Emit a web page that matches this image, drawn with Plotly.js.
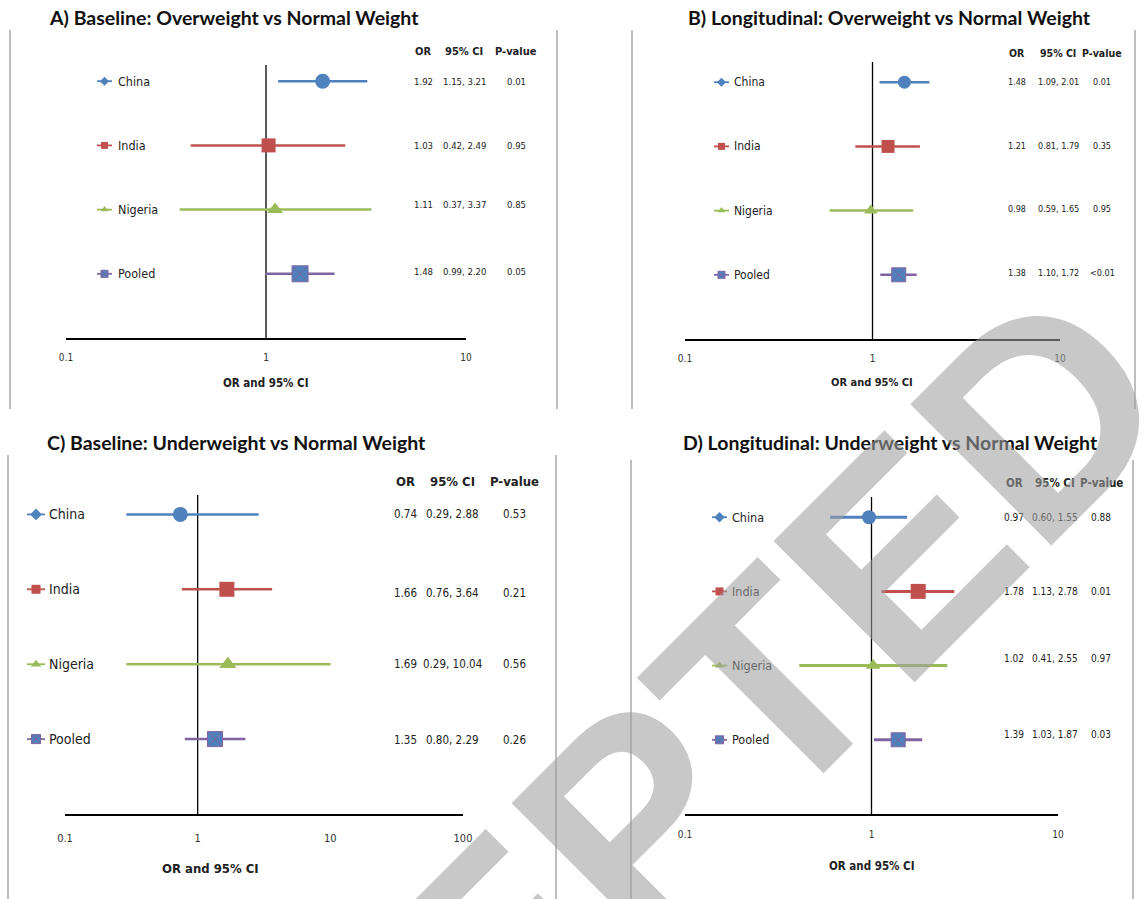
<!DOCTYPE html>
<html><head><meta charset="utf-8">
<script src="https://cdn.plot.ly/plotly-3.0.1.min.js"></script>
<style>html,body{margin:0;padding:0;background:#fff}</style>
</head><body><div id="chart" style="width:1144px;height:899px"></div>
<script>
// ---------- DATA ----------
const categories = ["China", "India", "Nigeria", "Pooled"];

const titles = [
  "A) Baseline: Overweight vs Normal Weight",
  "B) Longitudinal: Overweight vs Normal Weight",
  "C) Baseline: Underweight vs Normal Weight",
  "D) Longitudinal: Underweight vs Normal Weight"
];

const orA = [1.92, 1.03, 1.11, 1.48];
const loA = [1.15, 0.42, 0.37, 0.99];
const hiA = [3.21, 2.49, 3.37, 2.20];
const pA  = ["0.01", "0.95", "0.85", "0.05"];

const orB = [1.48, 1.21, 0.98, 1.38];
const loB = [1.09, 0.81, 0.59, 1.10];
const hiB = [2.01, 1.79, 1.65, 1.72];
const pB  = ["0.01", "0.35", "0.95", "<0.01"];

const orC = [0.74, 1.66, 1.69, 1.35];
const loC = [0.29, 0.76, 0.29, 0.80];
const hiC = [2.88, 3.64, 10.04, 2.29];
const pC  = ["0.53", "0.21", "0.56", "0.26"];

const orD = [0.97, 1.78, 1.02, 1.39];
const loD = [0.60, 1.13, 0.41, 1.03];
const hiD = [1.55, 2.78, 2.55, 1.87];
const pD  = ["0.88", "0.01", "0.97", "0.03"];

const tickValsAB = [0.1, 1, 10];
const tickValsC  = [0.1, 1, 10, 100];
const tickTextAB = ["0.1", "1", "10"];
const tickTextC  = ["0.1", "1", "10", "100"];

const headers = ["OR", "95% CI", "P-value"];
const axisTitle = "OR and 95% CI";
const watermark = "ACCEPTED";

// ---------- STYLE / LAYOUT ----------
const W = 1144, H = 899;
const px = x => x / W;
const py = y => 1 - y / H;
const NARROW = "'Liberation Sans Narrow','DejaVu Sans Condensed','Liberation Sans',sans-serif";
const TITLEF = "Lato, 'Open Sans', sans-serif";

const colors = { China: "#4F81BD", India: "#C0504D", Nigeria: "#9BBB59", Pooled: "#8064A2" };
const markerColors = { China: "#4F81BD", India: "#C0504D", Nigeria: "#9BBB59", Pooled: "#4F81BD" };
const symbols = { China: "circle", India: "square", Nigeria: "triangle-up", Pooled: "square-x" };
const legSymbols = { China: "diamond", India: "square", Nigeria: "triangle-up", Pooled: "square-x" };

const panels = [
  { or: orA, lo: loA, hi: hiA, p: pA, tv: tickValsAB, tt: tickTextAB, rng: [-1, 1],
    xl: 66, xr: 466, y0: 338, unit: 64.2, top: 65, legL: 97, legR: 112, labX: 116,
    cols: [423, 464, 516], headY: 52, valDy: [0, 0, -5, -2], tStand: 9,
    titleX: 47, titleY: 17, axT: [266, 383],
    fLab: 12.5, fVal: 9.5, fHead: 11, fTick: 10, fAx: 11.5, msize: [15, 14, 14, 16], lw: 2.5, legM: 7 },
  { or: orB, lo: loB, hi: hiB, p: pB, tv: tickValsAB, tt: tickTextAB, rng: [-1, 1],
    xl: 685, xr: 1060, y0: 339, unit: 64.2, top: 62, legL: 714, legR: 729, labX: 732,
    cols: [1017, 1058, 1102], headY: 53, valDy: [0, 0, -2, -2], tStand: 9,
    titleX: 686, titleY: 17, axT: [872, 382],
    fLab: 12, fVal: 9, fHead: 10.5, fTick: 10, fAx: 11, msize: [13, 13, 12, 14], lw: 2.5, legM: 7 },
  { or: orC, lo: loC, hi: hiC, p: pC, tv: tickValsC, tt: tickTextC, rng: [-1, 2],
    xl: 65, xr: 463, y0: 814, unit: 74.9, top: 495, legL: 27, legR: 45, labX: 47,
    cols: [405, 452, 514], headY: 481, valDy: [0, 4, 0, 1], tStand: 13,
    titleX: 45, titleY: 443, axT: [210, 868],
    fLab: 14, fVal: 11.5, fHead: 13, fTick: 11, fAx: 13, msize: [15, 15, 15, 15], lw: 2.5, legM: 9 },
  { or: orD, lo: loD, hi: hiD, p: pD, tv: tickValsAB, tt: tickTextAB, rng: [-1, 1],
    xl: 685, xr: 1058, y0: 814, unit: 74.2, top: 497, legL: 712, legR: 727, labX: 730,
    cols: [1014, 1055, 1101], headY: 483, valDy: [0, 0, -7, -5], tStand: 10,
    titleX: 681, titleY: 443, axT: [872, 866],
    fLab: 12.5, fVal: 10, fHead: 11.5, fTick: 10, fAx: 11.5, msize: [14, 15, 13, 14], lw: 3, legM: 8 }
];

const traces = [];
const layout = {
  width: W, height: H, margin: { l: 0, r: 0, t: 0, b: 0 },
  paper_bgcolor: "#fff", plot_bgcolor: "rgba(0,0,0,0)", showlegend: false,
  annotations: [], shapes: [], font: { family: NARROW, color: "#000" }
};

panels.forEach((P, k) => {
  const n = k + 1, nl = k + 5;
  const xa = "x" + n, ya = "y" + n, xl = "x" + nl;
  const ymax = (P.y0 - P.top) / P.unit;
  const rows = categories.map((c, i) => categories.length - i);

  layout["xaxis" + n] = {
    type: "log", domain: [px(P.xl), px(P.xr)], range: P.rng, anchor: ya,
    showline: true, linecolor: "#000", linewidth: 1.5, ticks: "", showgrid: false, zeroline: false,
    tickvals: P.tv, ticktext: P.tt, tickfont: { size: P.fTick, color: "#333", family: NARROW },
    ticklabelstandoff: P.tStand, fixedrange: true
  };
  layout["xaxis" + nl] = {
    domain: [px(P.legL), px(P.legR)], range: [0, 1], anchor: ya, visible: false, fixedrange: true
  };
  layout["yaxis" + n] = {
    domain: [py(P.y0), py(P.top)], range: [0, ymax], anchor: xa, visible: false, fixedrange: true
  };

  // reference line at OR = 1
  traces.push({ x: [1, 1], y: [0, ymax], xaxis: xa, yaxis: ya, mode: "lines",
    line: { color: "#000", width: 1.3 }, hoverinfo: "skip", cliponaxis: false });

  categories.forEach((c, i) => {
    traces.push({
      x: [P.or[i]], y: [rows[i]], xaxis: xa, yaxis: ya, mode: "markers", cliponaxis: false,
      error_x: { type: "data", symmetric: false, array: [P.hi[i] - P.or[i]], arrayminus: [P.or[i] - P.lo[i]],
                 color: colors[c], thickness: P.lw, width: 0 },
      marker: { symbol: symbols[c], size: P.msize[i], color: markerColors[c],
                line: { color: c === "Pooled" ? colors.Pooled : markerColors[c], width: c === "Pooled" ? 1 : 0 } }
    });
    // legend-style glyph
    traces.push({ x: [0, 1], y: [rows[i], rows[i]], xaxis: xl, yaxis: ya, mode: "lines", cliponaxis: false,
      line: { color: colors[c], width: 1.8 }, hoverinfo: "skip" });
    traces.push({ x: [0.5], y: [rows[i]], xaxis: xl, yaxis: ya, mode: "markers", cliponaxis: false,
      marker: { symbol: legSymbols[c], size: P.legM, color: markerColors[c],
                line: { color: colors.Pooled, width: c === "Pooled" ? 1 : 0 } },
      hoverinfo: "skip" });

    const rowPx = P.y0 - rows[i] * P.unit;
    layout.annotations.push({
      xref: "paper", yref: "paper", x: px(P.labX), y: py(rowPx), xanchor: "left", yanchor: "middle",
      text: c, showarrow: false, font: { family: NARROW, size: P.fLab, color: "#222" }
    });

    // value columns
    const yy = rowPx + P.valDy[i];
    const vals = [P.or[i].toFixed(2), P.lo[i].toFixed(2) + ", " + P.hi[i].toFixed(2), P.p[i]];
    vals.forEach((v, j) => layout.annotations.push({
      xref: "paper", yref: "paper", x: px(P.cols[j]), y: py(yy), xanchor: "center", yanchor: "middle",
      text: v, showarrow: false, font: { family: NARROW, size: P.fVal, color: "#222" }
    }));
  });

  headers.forEach((h, j) => layout.annotations.push({
    xref: "paper", yref: "paper", x: px(P.cols[j]), y: py(P.headY), xanchor: "center", yanchor: "middle",
    text: h, showarrow: false, font: { family: NARROW, size: P.fHead, color: "#222", weight: "bold" }
  }));

  layout.annotations.push({
    xref: "paper", yref: "paper", x: px(P.titleX), y: py(P.titleY), xanchor: "left", yanchor: "middle",
    text: titles[k], showarrow: false, font: { family: TITLEF, size: 19.5, color: "#111", weight: "bold" }
  });
  layout.annotations.push({
    xref: "paper", yref: "paper", x: px(P.axT[0]), y: py(P.axT[1]), xanchor: "center", yanchor: "middle",
    text: axisTitle, showarrow: false, font: { family: NARROW, size: P.fAx, color: "#222", weight: "bold" }
  });
});

// panel frame lines
const frames = [[10, 30, 409], [557, 30, 409], [632, 30, 409], [1135, 30, 409],
                [8, 455, 899], [556, 455, 899], [631, 460, 899], [1133, 460, 899]];
frames.forEach(f => layout.shapes.push({
  type: "line", xref: "paper", yref: "paper", x0: px(f[0]), x1: px(f[0]), y0: py(f[1]), y1: py(f[2]),
  line: { color: "#a8a8a8", width: 1.5 }
}));

// watermark
layout.annotations.push({
  xref: "paper", yref: "paper", x: px(550), y: py(904), xanchor: "center", yanchor: "middle",
  text: watermark, showarrow: false, textangle: -45,
  font: { family: "'Liberation Sans', Arial, sans-serif", size: 290, color: "rgba(158,158,158,0.57)", weight: "bold" }
});

Plotly.newPlot("chart", traces, layout, { staticPlot: true });
</script></body></html>
